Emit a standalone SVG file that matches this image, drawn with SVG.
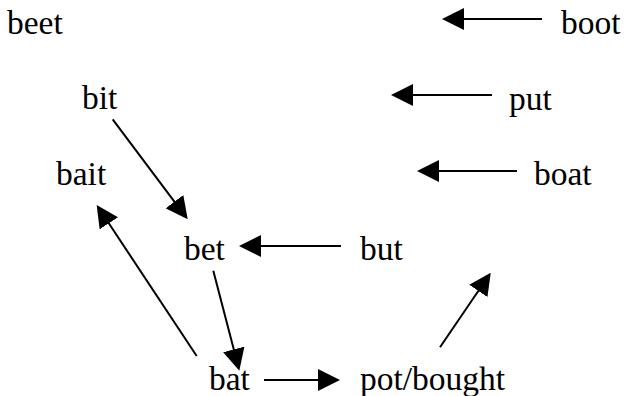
<svg xmlns="http://www.w3.org/2000/svg" width="625" height="396" viewBox="0 0 625 396">
  <style>
    .lbl { font-family: "Liberation Serif", "Times New Roman", serif; font-size: 33.5px; fill: #000; }
    .edge { stroke: #000; stroke-width: 2; fill: none; marker-end: url(#head); }
  </style>
  <defs>
    <!-- solid triangular arrowhead; tip sits 10px past the line end -->
    <marker id="head" viewBox="0 0 22 22" refX="12" refY="11" markerWidth="22" markerHeight="22" markerUnits="userSpaceOnUse" orient="auto">
      <path d="M0,0 L22,11 L0,22 Z" fill="#000"/>
    </marker>
  </defs>
  <rect width="625" height="396" fill="#fff"/>

  <g id="connectors">
    <line class="edge" x1="542" y1="19" x2="452" y2="19"/>
    <line class="edge" x1="492" y1="95" x2="401" y2="95"/>
    <line class="edge" x1="517" y1="171" x2="427" y2="171"/>
    <line class="edge" x1="341" y1="246" x2="249" y2="246"/>
    <line class="edge" x1="112.7" y1="119.3" x2="181.7" y2="211.3"/>
    <line class="edge" x1="196.7" y1="356" x2="102.2" y2="213.3"/>
    <line class="edge" x1="213.3" y1="270.7" x2="236.8" y2="361"/>
    <line class="edge" x1="264" y1="380" x2="330" y2="380"/>
    <line class="edge" x1="440" y1="347.3" x2="485.1" y2="281"/>
  </g>

  <g id="beet"><text class="lbl" x="7" y="34">beet</text></g>
  <g id="boot"><text class="lbl" x="561" y="34">boot</text></g>
  <g id="bit"><text class="lbl" x="82" y="109">bit</text></g>
  <g id="put"><text class="lbl" x="509" y="110">put</text></g>
  <g id="bait"><text class="lbl" x="56" y="185">bait</text></g>
  <g id="boat"><text class="lbl" x="534" y="185">boat</text></g>
  <g id="bet"><text class="lbl" x="184" y="260">bet</text></g>
  <g id="but"><text class="lbl" x="360" y="260">but</text></g>
  <g id="bat"><text class="lbl" x="209" y="390">bat</text></g>
  <g id="pot-bought"><text class="lbl" x="360" y="390">pot/bought</text></g>
</svg>
